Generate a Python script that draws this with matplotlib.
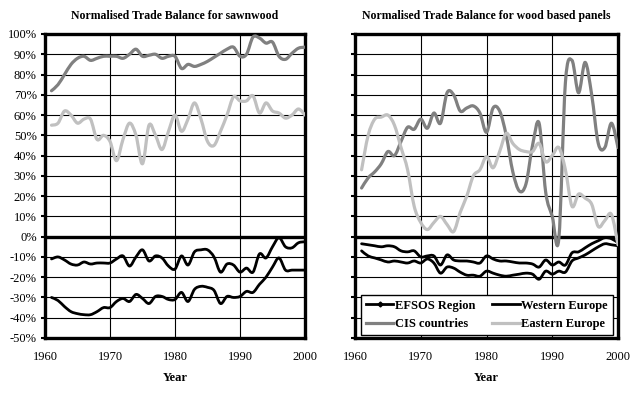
import numpy as np
import matplotlib
matplotlib.use("Agg")
import matplotlib.pyplot as plt
from matplotlib.path import Path
from matplotlib.patches import PathPatch
from matplotlib.lines import Line2D

plt.rcParams['font.family'] = ['Liberation Serif', 'DejaVu Serif']

# data (normalised trade balance, %)
years = list(range(1961, 2001))

saw_efsos = [-11, -10, -11.5, -13.5, -14, -12.5, -13.5, -13, -13, -13,
             -11, -9.5, -14.5, -10, -6.5, -12, -9.5, -10.5, -14.5, -16,
             -9.5, -14, -7.5, -6.5, -6.5, -10, -17.5, -13.5, -14, -17.5,
             -15.5, -17.5, -8.5, -10.5, -5, -0.5, -5, -5.5, -3, -2.5]
saw_west = [-30, -31.5, -34.5, -37, -38, -38.5, -38.5, -37, -35, -35,
            -32, -30.5, -32, -28.5, -30.5, -33, -29.5, -29.5, -31, -31,
            -27.5, -32, -26, -24.5, -25, -26.5, -33, -29.5, -30, -29.5,
            -27, -27.5, -23.5, -20, -15, -10.5, -16.5, -16.5, -16.5, -16.5]
saw_cis = [72, 75, 80, 85, 88, 89, 87, 88, 89, 89,
           89, 88, 90, 92.5, 89, 89.5, 90, 88, 89, 89,
           83, 85, 84, 85, 86.5, 88.5, 90.5, 92.5, 93.5, 89,
           90, 98.5, 98, 95.5, 96, 89, 87.5, 90.5, 93, 93.5]
saw_east = [55, 56, 62, 60, 56, 58, 58, 48, 50, 47,
            37.5, 48, 56, 50, 36, 55, 50, 43, 52, 60,
            52, 58, 66, 58, 47, 45, 52, 60, 69, 67,
            67, 69.5, 61, 66, 62, 61, 58.5, 60, 63, 60]

pan_efsos = [-3.5, -4, -4.5, -5, -4.5, -5, -7, -7.5, -7, -10,
             -9.5, -9.5, -14, -9, -11.5, -12, -12, -12.5, -13, -9.5,
             -11, -12, -12, -12.5, -13, -13, -13.5, -15, -11.5, -14,
             -12.5, -14, -8, -7.5, -5.5, -3.5, -2, -0.5, -1, -3]
pan_west = [-7, -9.5, -10.5, -11.5, -12.5, -12, -12.5, -13, -12, -13,
            -11, -13, -18, -15, -15.5, -17.5, -19, -19, -19.5, -17,
            -18, -19, -19.5, -19, -18.5, -18, -18.5, -21, -17, -18.5,
            -17, -17.5, -12, -10.5, -9, -7, -5, -3.5, -4, -4.5]
pan_cis = [24, 29, 32, 36, 42, 40, 47, 54, 53, 58,
           53.5, 61, 56, 71, 70, 62, 63.5, 64.5, 61, 51.5,
           63.5, 62, 50, 32, 22.5, 26, 45, 56, 22, 10,
           -1, 76, 87, 71, 86, 70, 46, 44, 56, 44]
pan_east = [33, 50, 58, 59, 60, 55, 44, 33, 15, 7,
            3.5, 7, 10, 6, 2.5, 12, 20, 30, 33, 39.5,
            34, 42, 51, 46, 43, 42, 42, 46, 37, 40,
            44, 33, 15, 21, 19, 16, 5, 8, 11, -4]

titles = ["Normalised Trade Balance for sawnwood",
          "Normalised Trade Balance for wood based panels"]
labels = ["EFSOS Region", "Western Europe", "CIS countries", "Eastern Europe"]
colors = ["black", "black", "#808080", "#c0c0c0"]
widths = [2.0, 2.0, 2.3, 2.3]


def smooth(ax, x, y, color, lw):
    # excel-like smoothed line: bezier segments through the data points
    x = np.asarray(x, float)
    y = np.asarray(y, float)
    px = np.concatenate([[x[0]], x, [x[-1]]])
    py = np.concatenate([[y[0]], y, [y[-1]]])
    verts = [(x[0], y[0])]
    codes = [Path.MOVETO]
    for i in range(len(x) - 1):
        c1 = (px[i + 1] + (px[i + 2] - px[i]) / 6, py[i + 1] + (py[i + 2] - py[i]) / 6)
        c2 = (px[i + 2] - (px[i + 3] - px[i + 1]) / 6, py[i + 2] - (py[i + 3] - py[i + 1]) / 6)
        verts += [c1, c2, (px[i + 2], py[i + 2])]
        codes += [Path.CURVE4] * 3
    ax.add_patch(PathPatch(Path(verts, codes), facecolor="none", edgecolor=color,
                           lw=lw, joinstyle="round", capstyle="round", zorder=3))


fig = plt.figure(figsize=(6.42, 3.94), dpi=100)
ax1 = fig.add_axes([45 / 642, 1 - 338 / 394, 260 / 642, 304 / 394])
ax2 = fig.add_axes([355 / 642, 1 - 338 / 394, 263 / 642, 304 / 394])

for k, (ax, series) in enumerate([(ax1, [saw_efsos, saw_west, saw_cis, saw_east]),
                                  (ax2, [pan_efsos, pan_west, pan_cis, pan_east])]):
    ax.set_xlim(1960, 2000)
    ax.set_ylim(-50, 100)
    ax.set_xticks(range(1960, 2001, 10))
    ax.set_yticks(range(-50, 101, 10))
    ax.grid(True, color="black", lw=0.8, zorder=1)
    ax.axhline(0, color="black", lw=2.4, zorder=2)
    for s in ax.spines.values():
        s.set_linewidth(2.4)
    ax.tick_params(axis="x", length=0, pad=9, labelsize=9)
    ax.tick_params(axis="y", length=3, width=1.5, pad=3, labelsize=9)
    if k == 0:
        ax.set_yticklabels([f"{v}%" for v in range(-50, 101, 10)])
    else:
        ax.set_yticklabels([])
    for s, c, w in zip(series, colors, widths):
        smooth(ax, years, s, c, w)
    ax.set_xlabel("Year", fontweight="bold", fontsize=9, labelpad=7)
    ax.set_title(titles[k], fontweight="bold", fontsize=8.5, pad=11)

handles = [Line2D([], [], color="black", lw=2.0, marker="D", ms=2.5),
           Line2D([], [], color="black", lw=2.0),
           Line2D([], [], color="#808080", lw=2.3),
           Line2D([], [], color="#c0c0c0", lw=2.3)]
# legend fills column-wise: reorder so rows read EFSOS/Western, CIS/Eastern
order = [0, 2, 1, 3]
leg = ax2.legend([handles[i] for i in order], [labels[i] for i in order], ncol=2,
                 loc="lower left", mode="expand",
                 bbox_to_anchor=(0.022, 0.01, 0.958, 0.161), frameon=True,
                 fancybox=False, edgecolor="black", framealpha=1,
                 prop={"weight": "bold", "size": 9}, handlelength=2.2,
                 handletextpad=0.1, columnspacing=0.5, borderaxespad=0,
                 borderpad=0.4, labelspacing=0.5)
leg.get_frame().set_linewidth(1.0)
leg.set_zorder(5)

fig.savefig("out.png", dpi=100)
